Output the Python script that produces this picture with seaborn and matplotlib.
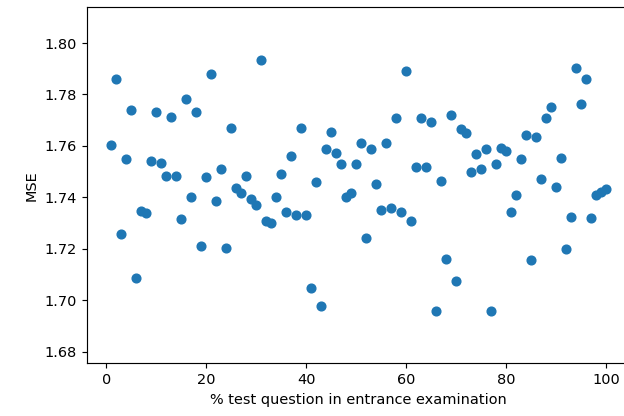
import matplotlib
matplotlib.use("Agg")
import matplotlib.pyplot as plt
import numpy as np
import pandas as pd
import seaborn as sns

# share of test questions in the entrance examination (%)
pct_test = list(range(1, 101))

# mean squared error for each share
mse = [
    1.7605, 1.7859, 1.7257, 1.7548, 1.7738, 1.7086, 1.7346, 1.7339, 1.7541, 1.7733,
    1.7535, 1.7485, 1.7713, 1.7485, 1.7314, 1.7782, 1.7403, 1.7733, 1.7212, 1.7479,
    1.7878, 1.7384, 1.7511, 1.7205, 1.7669, 1.7437, 1.7416, 1.7485, 1.7393, 1.7371,
    1.7935, 1.7310, 1.7302, 1.7403, 1.7491, 1.7345, 1.7561, 1.7333, 1.7669, 1.7333,
    1.7047, 1.7459, 1.6977, 1.7587, 1.7655, 1.7573, 1.7529, 1.7403, 1.7416, 1.7529,
    1.7612, 1.7244, 1.7587, 1.7453, 1.7351, 1.7612, 1.7358, 1.7707, 1.7345, 1.7891,
    1.7309, 1.7517, 1.7707, 1.7517, 1.7694, 1.6959, 1.7465, 1.7161, 1.7720, 1.7073,
    1.7665, 1.7649, 1.7498, 1.7568, 1.7511, 1.7587, 1.6959, 1.7529, 1.7593, 1.7580,
    1.7345, 1.7410, 1.7548, 1.7643, 1.7155, 1.7636, 1.7472, 1.7707, 1.7751, 1.7441,
    1.7554, 1.7200, 1.7325, 1.7904, 1.7764, 1.7859, 1.7319, 1.7409, 1.7420, 1.7433,
]

df = pd.DataFrame({"pct": pct_test, "mse": mse})

plt.rcParams["font.family"] = ["DejaVu Sans"]
plt.rcParams["font.size"] = 10

fig = plt.figure(figsize=(6.0, 4.0), dpi=104)
ax = fig.add_axes([0.139, 0.1267, 0.8719, 0.8558])

sns.scatterplot(data=df, x="pct", y="mse", ax=ax, s=36, color="#1f77b4",
                edgecolor="#1f77b4", linewidth=1.0)

ax.set_ylim(1.6755, 1.8139)
ax.set_yticks([1.68, 1.70, 1.72, 1.74, 1.76, 1.78, 1.80])
ax.set_xticks([0, 20, 40, 60, 80, 100])
ax.set_xlabel("% test question in entrance examination")
ax.set_ylabel("MSE")

fig.savefig("out.png", dpi=104)
